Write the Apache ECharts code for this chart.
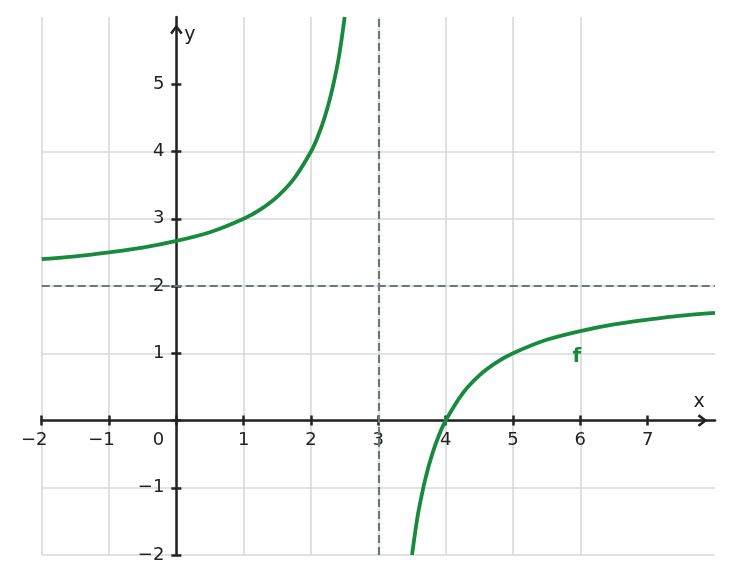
<!DOCTYPE html>
<html><head><meta charset="utf-8">
<script src="https://cdn.jsdelivr.net/npm/echarts@6/dist/echarts.min.js"></script>
<style>html,body{margin:0;padding:0;background:#fff}#c{width:732px;height:584px}</style>
</head><body><div id="c"></div>
<script>
// ---- data ----
const xTicks = [-2, -1, 0, 1, 2, 3, 4, 5, 6, 7];
const yTicks = [-2, -1, 0, 1, 2, 3, 4, 5];
const yLabelTicks = [-2, -1, 1, 2, 3, 4, 5];
const xRange = [-2, 8];
const yRange = [-2, 6];
const leftBranchX = [-2, -1.5, -1, -0.5, 0, 0.5, 1, 1.25, 1.5, 1.75, 2, 2.1, 2.2, 2.3, 2.4, 2.45, 2.5];
const leftBranchY = [2.40, 2.44, 2.50, 2.57, 2.67, 2.80, 3.00, 3.14, 3.33, 3.60, 4.00, 4.22, 4.50, 4.86, 5.33, 5.64, 6.00];
const rightBranchX = [3.5, 3.55, 3.6, 3.7, 3.8, 3.9, 4, 4.25, 4.5, 4.75, 5, 5.5, 6, 6.5, 7, 7.5, 8];
const rightBranchY = [-2.00, -1.64, -1.33, -0.86, -0.50, -0.22, 0.00, 0.40, 0.67, 0.86, 1.00, 1.20, 1.33, 1.43, 1.50, 1.56, 1.60];
const asymptoteX = 3;
const asymptoteY = 2;
const curveName = 'f';
const curveLabelAt = [5.95, 0.95];

// ---- styles ----
const FONT = 'DejaVu Sans';
const GREEN = '#178a3d';
const AXIS = '#222222';
const GRID = '#d9d9d9';
const DASH = '#6b767f';
const MINUS = '\u2212';

const zip = (xs, ys) => xs.map((x, i) => [x, ys[i]]);
const arrowPath = 'path://M10,0 L20,13 L17,16 L10,6.5 L3,16 L0,13 Z';
const labelBase = { fontFamily: FONT, fontSize: 18, color: AXIS };
const tickStyle = { color: AXIS, width: 2.5 };
const G = { left: 41.7, right: 17, top: 17, bottom: 29 };

function buildOption(xOff, yOff) {
  const xCommon = { type: 'value', min: xRange[0], max: xRange[1], interval: 1, position: 'bottom', offset: xOff };
  const yCommon = { type: 'value', min: yRange[0], max: yRange[1], interval: 1, position: 'left', offset: yOff };
  return {
    animation: false,
    backgroundColor: '#ffffff',
    grid: Object.assign({ containLabel: false, outerBoundsMode: 'none' }, G),
    xAxis: [
      Object.assign({}, xCommon, {
        name: 'x', nameLocation: 'end', nameGap: -16,
        nameTextStyle: { fontFamily: FONT, fontSize: 19, color: AXIS, verticalAlign: 'bottom', align: 'center', padding: [0, 0, 9, 0] },
        axisLine: { onZero: false, symbol: ['none', arrowPath], symbolSize: [12.5, 10], symbolOffset: [0, -12.5], lineStyle: { color: AXIS, width: 2.5 } },
        axisTick: { show: true, inside: false, length: 5, customValues: xTicks, lineStyle: tickStyle },
        axisLabel: {
          show: true, margin: 10.5, customValues: xTicks,
          formatter: v => v === 0 ? '{z|0}' : (v < 0 ? '{n|' + MINUS + Math.abs(v) + '}' : '{p|' + v + '}'),
          rich: {
            z: Object.assign({ padding: [0, 36, 0, 0] }, labelBase),
            n: Object.assign({ padding: [0, 15, 0, 0] }, labelBase),
            p: Object.assign({}, labelBase)
          }
        },
        splitLine: { show: true, showMaxLine: false, showMinLine: true, lineStyle: { color: GRID, width: 1.6 } }
      }),
      Object.assign({}, xCommon, {
        axisLine: { onZero: false, show: false },
        axisTick: { show: true, inside: true, length: 5, customValues: xTicks, lineStyle: tickStyle },
        axisLabel: { show: false }, splitLine: { show: false }
      })
    ],
    yAxis: [
      Object.assign({}, yCommon, {
        name: 'y', nameLocation: 'end', nameGap: -18,
        nameTextStyle: { fontFamily: FONT, fontSize: 19, color: AXIS, verticalAlign: 'middle', align: 'left', padding: [0, 0, 0, 8] },
        axisLine: { onZero: false, symbol: ['none', arrowPath], symbolSize: [12.5, 10], symbolOffset: [0, -12.5], lineStyle: { color: AXIS, width: 2.5 } },
        axisTick: { show: true, inside: false, length: 5, customValues: yTicks, lineStyle: tickStyle },
        axisLabel: Object.assign({
          show: true, margin: 12, customValues: yLabelTicks,
          formatter: v => v < 0 ? MINUS + Math.abs(v) : String(v)
        }, labelBase),
        splitLine: { show: true, showMaxLine: false, showMinLine: true, lineStyle: { color: GRID, width: 1.6 } }
      }),
      Object.assign({}, yCommon, {
        axisLine: { onZero: false, show: false },
        axisTick: { show: true, inside: true, length: 5, customValues: yTicks, lineStyle: tickStyle },
        axisLabel: { show: false }, splitLine: { show: false }
      })
    ],
    series: [
      {
        type: 'line', name: 'asymptotes', data: [], z: 1,
        markLine: {
          silent: true, symbol: ['none', 'none'], label: { show: false },
          lineStyle: { color: DASH, width: 2.2, type: [8, 4] },
          data: [{ xAxis: asymptoteX }, { yAxis: asymptoteY }]
        }
      },
      {
        type: 'line', name: curveName, data: zip(leftBranchX, leftBranchY), smooth: 0.3,
        showSymbol: false, clip: true, z: 5, lineStyle: { color: GREEN, width: 3.8 }
      },
      {
        type: 'line', name: curveName, data: zip(rightBranchX, rightBranchY), smooth: 0.3,
        showSymbol: false, clip: true, z: 5, lineStyle: { color: GREEN, width: 3.8 },
        markPoint: {
          silent: true, symbol: 'circle', symbolSize: 0,
          label: { show: true, formatter: curveName, position: 'inside', fontFamily: FONT, fontWeight: 'bold', fontSize: 20, color: GREEN },
          data: [{ coord: curveLabelAt }]
        }
      }
    ]
  };
}

const chart = echarts.init(document.getElementById('c'), null, { renderer: 'canvas' });
chart.setOption(buildOption(0, 0));
// move the axes onto the origin using the library's own scales
const origin = chart.convertToPixel({ gridIndex: 0 }, [0, 0]);
const rect = chart.getModel().getComponent('grid', 0).coordinateSystem.getRect();
const xOff = -((rect.y + rect.height) - origin[1]);
const yOff = -(origin[0] - rect.x);
chart.setOption(buildOption(xOff, yOff), true);
</script>
</body></html>
